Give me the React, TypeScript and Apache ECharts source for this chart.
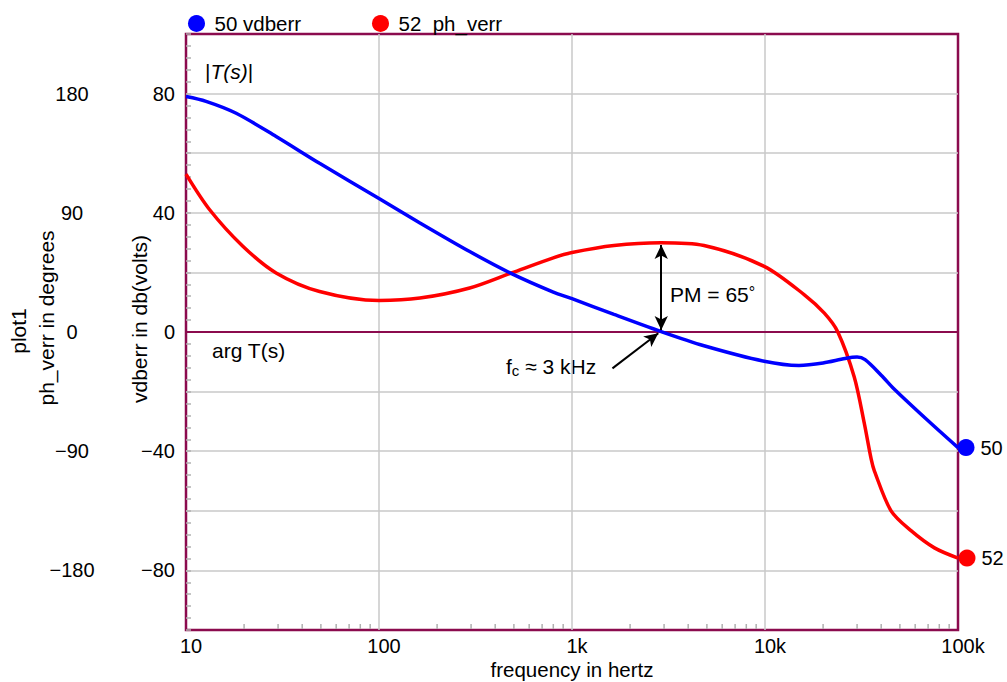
import React, { useEffect, useRef } from "react";
import * as echarts from "echarts";

// ---- data ----
const magFreq = [10, 12.7, 18.2, 29.3, 49.2, 100, 163, 295, 486, 800, 1000, 1650, 2880, 4830, 9900, 15000, 20000, 26000, 30000, 33000, 40000, 46800, 69800, 100000];
const magDb = [79.0, 77.4, 73.4, 65.6, 56.6, 44.8, 36.6, 27.0, 19.6, 13.4, 11.2, 5.9, 0.2, -4.6, -9.8, -11.2, -10.4, -8.9, -8.4, -9.3, -14.5, -19.2, -29.7, -38.8];

const phaseFreq = [10, 13.2, 19.7, 29.3, 49.2, 100, 163, 295, 486, 800, 1000, 1650, 2880, 4830, 9900, 16000, 20300, 23800, 29000, 32700, 35500, 36900, 45000, 57100, 75500, 100000];
const phaseDeg = [119.2, 92.7, 64.8, 44.6, 30.6, 23.8, 25.6, 33.2, 44.6, 56, 60, 65.3, 67.4, 65.3, 49.6, 28.1, 14.2, 0.2, -34, -69, -96, -105, -135, -150, -163, -170.7];

const freqTickLabels: Record<number, string> = { 10: "10", 100: "100", 1000: "1k", 10000: "10k", 100000: "100k" };
const dbLabels = [-80, -40, 0, 40, 80];
const degLabels = [-180, -90, 0, 90, 180];

const pmArrow = { freq: 2900, fromDb: 0.7, toDb: 29.2 };
const fcArrow = { fromFreq: 1620, fromDb: -12.2, toFreq: 2800, toDb: -0.4 };

const FONT = "'Liberation Sans', Arial, Helvetica, sans-serif";
const MAROON = "#8b0b4e";
const GRID = "#c8c8c8";
const TICK = "#b0b0b0";

function minorFreqs(): number[] {
  const out: number[] = [];
  for (let d = 10; d < 100000; d *= 10) {
    for (let k = 2; k <= 9; k++) out.push(d * k);
  }
  return out;
}

function fmtSigned(v: number): string {
  return v < 0 ? "\u2212" + Math.abs(v) : String(v);
}

export default function App() {
  const ref = useRef<HTMLDivElement>(null);
  useEffect(() => {
    if (!ref.current) return;
    const chart = echarts.init(ref.current, undefined, { renderer: "svg" });
    const blue = magFreq.map((f, i) => [f, magDb[i]]);
    const red = phaseFreq.map((f, i) => [f, phaseDeg[i]]);
    const lastBlue = blue[blue.length - 1];
    const lastRed = red[red.length - 1];

    chart.setOption({
      animation: false,
      textStyle: { fontFamily: FONT },
      grid: {
        left: 186, right: 49, top: 34, bottom: 52,
        outerBoundsMode: "none", containLabel: false,
        show: true, borderColor: MAROON, borderWidth: 2.5, backgroundColor: "transparent",
      },
      legend: [
        {
          data: ["50 vdberr"], left: 183, top: 8, icon: "circle", itemWidth: 26, itemHeight: 17,
          textStyle: { fontSize: 20.5, color: "#000", fontFamily: FONT }, selectedMode: false,
        },
        {
          data: ["52  ph_verr"], left: 367, top: 8, icon: "circle", itemWidth: 26, itemHeight: 17,
          textStyle: { fontSize: 20.5, color: "#000", fontFamily: FONT }, selectedMode: false,
        },
      ],
      xAxis: {
        type: "log", logBase: 10, min: 10, max: 100000,
        name: "frequency in hertz", nameLocation: "middle", nameGap: 30, nameMoveOverlap: false,
        nameTextStyle: { fontSize: 20.5, color: "#000", fontFamily: FONT, lineHeight: 19 },
        axisLine: { show: false },
        axisTick: { show: false },
        axisLabel: {
          fontSize: 20, color: "#000", margin: 7, padding: [0, 0, 0, 10], lineHeight: 18,
          formatter: (v: number) => freqTickLabels[Math.round(v)] ?? "",
        },
        splitLine: { show: true, showMinLine: false, showMaxLine: false, lineStyle: { color: GRID, width: 1.5 } },
      },
      yAxis: [
        {
          type: "value", min: -100, max: 100, interval: 20, position: "left",
          axisLine: { show: false },
          axisTick: { show: true, inside: true, length: 5, lineStyle: { color: TICK, width: 1.5 } },
          minorTick: { show: true, splitNumber: 5, length: 5, lineStyle: { color: TICK, width: 1.5 } },
          axisLabel: {
            fontSize: 20, color: "#000", margin: 11,
            formatter: (v: number) => (dbLabels.includes(v) ? fmtSigned(v) : ""),
          },
          splitLine: { show: true, showMinLine: false, showMaxLine: false, lineStyle: { color: GRID, width: 1.5 } },
        },
        {
          type: "value", min: -225, max: 225, interval: 45, position: "left", offset: 0,
          axisLine: { show: false }, axisTick: { show: false }, splitLine: { show: false },
          axisLabel: {
            fontSize: 20, color: "#000", margin: 114, align: "center",
            formatter: (v: number) => (degLabels.includes(v) ? fmtSigned(v) : ""),
          },
        },
      ],
      series: [
        {
          type: "custom", name: "minorTicks", silent: true, xAxisIndex: 0, yAxisIndex: 0,
          data: minorFreqs().map((f) => [f, -100]),
          renderItem: (_p: any, api: any) => {
            const pt = api.coord([api.value(0), api.value(1)]);
            return {
              type: "line",
              shape: { x1: pt[0], y1: pt[1] - 1, x2: pt[0], y2: pt[1] - 6 },
              style: { stroke: TICK, lineWidth: 1.5 },
            };
          },
          z: 1,
        },
        {
          type: "line", name: "zero", silent: true, yAxisIndex: 0,
          data: [[10, 0], [100000, 0]], showSymbol: false,
          lineStyle: { color: MAROON, width: 2 }, z: 1,
        },
        {
          type: "line", name: "52  ph_verr", yAxisIndex: 1, data: red, smooth: 0.3,
          showSymbol: false, color: "#ff0000", lineStyle: { color: "#ff0000", width: 3.5 }, z: 3,
        },
        {
          type: "line", name: "50 vdberr", yAxisIndex: 0, data: blue, smooth: 0.3,
          showSymbol: false, color: "#0000ff", lineStyle: { color: "#0000ff", width: 3.5 }, z: 4,
          markLine: {
            silent: true, animation: false, symbolSize: [10, 14],
            label: { show: false },
            lineStyle: { color: "#000", width: 2, type: "solid" },
            data: [
              [
                { coord: [pmArrow.freq, pmArrow.fromDb], symbol: "arrow" },
                { coord: [pmArrow.freq, pmArrow.toDb], symbol: "arrow" },
              ],
              [
                { coord: [fcArrow.fromFreq, fcArrow.fromDb], symbol: "none" },
                { coord: [fcArrow.toFreq, fcArrow.toDb], symbol: "arrow" },
              ],
            ],
          },
        },
        {
          type: "scatter", name: "end50", yAxisIndex: 0, data: [lastBlue],
          symbol: "circle", symbolSize: 17, symbolOffset: [8, 0], color: "#0000ff", z: 5,
          itemStyle: { color: "#0000ff", opacity: 1 },
          label: { show: true, position: "right", distance: 6, formatter: "50", fontSize: 20, color: "#000", fontFamily: FONT },
        },
        {
          type: "scatter", name: "end52", yAxisIndex: 1, data: [lastRed],
          symbol: "circle", symbolSize: 17, symbolOffset: [9, 0], color: "#ff0000", z: 5,
          itemStyle: { color: "#ff0000", opacity: 1 },
          label: { show: true, position: "right", distance: 6, formatter: "52", fontSize: 20, color: "#000", fontFamily: FONT },
        },
      ],
      graphic: [
        {
          type: "text", left: 205, top: 61,
          style: {
            text: "|{i|T(s)}|", fontSize: 21, fill: "#000", fontFamily: FONT,
            rich: { i: { fontStyle: "italic", fontSize: 21, fontFamily: FONT } },
          } as any,
        },
        { type: "text", left: 212, top: 340, style: { text: "arg T(s)", fontSize: 21, fill: "#000", fontFamily: FONT } },
        {
          type: "text", left: 670, top: 284,
          style: {
            text: "PM = 65{d|°}", fontSize: 21, fill: "#000", fontFamily: FONT,
            rich: { d: { fontSize: 16, verticalAlign: "top", fontFamily: FONT } },
          } as any,
        },
        {
          type: "text", left: 506, top: 356,
          style: {
            text: "f{s|c} \u2248 3 kHz", fontSize: 21, fill: "#000", fontFamily: FONT,
            rich: { s: { fontSize: 15, verticalAlign: "bottom", padding: [8, 0, 0, 0], fontFamily: FONT } },
          } as any,
        },
        {
          type: "text", x: 139, y: 319, rotation: Math.PI / 2,
          style: { text: "vdberr in db(volts)", fontSize: 21, fill: "#000", fontFamily: FONT, align: "center", verticalAlign: "middle" },
        },
        {
          type: "text", x: 18, y: 331, rotation: Math.PI / 2,
          style: { text: "plot1", fontSize: 21, fill: "#000", fontFamily: FONT, align: "center", verticalAlign: "middle" },
        },
        {
          type: "text", x: 46, y: 318, rotation: Math.PI / 2,
          style: { text: "ph_verr in degrees", fontSize: 21, fill: "#000", fontFamily: FONT, align: "center", verticalAlign: "middle" },
        },
      ],
    });
    return () => chart.dispose();
  }, []);

  return <div ref={ref} style={{ position: "absolute", left: 0, top: 0, width: 1007, height: 682 }} />;
}
